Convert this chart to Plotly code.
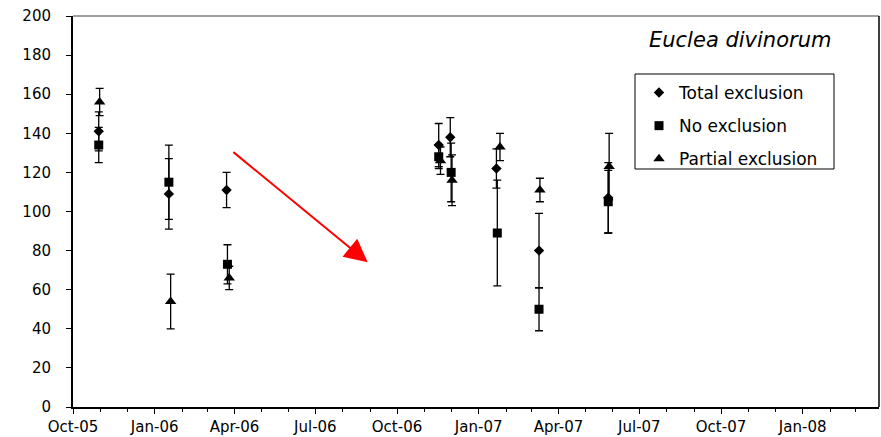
import plotly.graph_objects as go

# ---- data ----
dates_total = ["2005-10-30", "2006-01-17", "2006-03-23", "2006-11-17", "2006-11-30",
               "2007-01-21", "2007-03-10", "2007-05-27"]
dates_none = ["2005-10-30", "2006-01-17", "2006-03-24", "2006-11-17", "2006-12-01",
              "2007-01-22", "2007-03-10", "2007-05-27"]
dates_partial = ["2005-10-31", "2006-01-19", "2006-03-26", "2006-11-19", "2006-12-02",
                 "2007-01-25", "2007-03-11", "2007-05-28"]

total_excl = [141, 109, 111, 134, 138, 122, 80, 107]
total_err = [10, 18, 9, 11, 10, 10, 19, 18]

no_excl = [134, 115, 73, 128, 120, 89, 50, 105]
no_err = [9, 19, 10, 6, 15, 27, 11, 16]

partial_excl = [156, 54, 66, 126, 116, 133, 111, 123]
partial_err = [7, 14, 6, 7, 13, 7, 6, 17]

series_names = ["Total exclusion", "No exclusion", "Partial exclusion"]
title_text = "Euclea divinorum"

# arrow (annotation) endpoints in data space
arrow_tail = ("2006-03-29", 131)
arrow_tip = ("2006-08-29", 74)

x_range = ["2005-10-01", "2008-03-27"]

FONT = "DejaVu Sans"

fig = go.Figure()

def add(name, x, y, err, symbol, size, grp):
    fig.add_trace(go.Scatter(
        x=x, y=y, mode="markers", name=name, legendgroup=grp,
        marker=dict(symbol=symbol, size=size, color="black"),
        error_y=dict(type="data", array=err, visible=True, color="black",
                     thickness=1.3, width=4),
    ))

add(series_names[0], dates_total, total_excl, total_err, "diamond", 8, "a")
add(series_names[1], dates_none, no_excl, no_err, "square", 9, "b")
add(series_names[2], dates_partial, partial_excl, partial_err, "triangle-up", 10, "c")

fig.add_annotation(
    x=arrow_tip[0], y=arrow_tip[1], ax=arrow_tail[0], ay=arrow_tail[1],
    xref="x", yref="y", axref="x", ayref="y",
    showarrow=True, arrowhead=2, arrowsize=2.3, arrowwidth=2, arrowcolor="#ff0000", text="",
)

fig.add_annotation(
    text="<i>" + title_text + "</i>", xref="paper", yref="paper",
    x=(833 - 73) / 806, y=1 - (40 - 16) / 391, xanchor="right", yanchor="middle",
    showarrow=False, font=dict(family=FONT, size=21, color="black"),
)

# legend frame
fig.add_shape(type="rect", xref="paper", yref="paper",
              x0=(635 - 73) / 806, x1=(834 - 73) / 806,
              y0=1 - (169 - 16) / 391, y1=1 - (74 - 16) / 391,
              line=dict(color="black", width=1), fillcolor="rgba(0,0,0,0)")
# plot frame (top grey, right black)
fig.add_shape(type="line", xref="paper", yref="paper", x0=0, x1=1, y0=1, y1=1,
              line=dict(color="#808080", width=1.5))
fig.add_shape(type="line", xref="paper", yref="paper", x0=1, x1=1, y0=0, y1=1,
              line=dict(color="black", width=1.5))

fig.update_layout(
    width=881, height=437,
    margin=dict(l=73, r=2, t=16, b=30, autoexpand=False),
    paper_bgcolor="white", plot_bgcolor="white",
    font=dict(family=FONT, color="black"),
    showlegend=True,
    legend=dict(x=(639 - 73) / 806, y=1 - (75 - 16) / 391, xanchor="left", yanchor="top",
                bgcolor="rgba(0,0,0,0)", borderwidth=0,
                font=dict(family=FONT, size=17, color="black"),
                tracegroupgap=8, traceorder="grouped"),
    xaxis=dict(
        type="date", range=x_range, tick0="2005-10-01", dtick="M3", tickformat="%b-%y",
        showgrid=False, zeroline=False, showline=True, linecolor="black", linewidth=2,
        ticks="outside", ticklen=5, tickcolor="black", automargin=False,
        minor=dict(dtick="M1", tick0="2005-10-01", ticks="outside", ticklen=3, tickcolor="black", showgrid=False),
        tickfont=dict(family=FONT, size=15, color="black"), ticklabelstandoff=0,
    ),
    yaxis=dict(
        range=[0, 200], dtick=20, showgrid=False, zeroline=False, showline=True,
        linecolor="black", linewidth=2, ticks="outside", ticklen=5, tickcolor="black",
        automargin=False,
        tickfont=dict(family=FONT, size=15, color="black"), ticklabelstandoff=12,
    ),
)

fig.write_html("out.html")
